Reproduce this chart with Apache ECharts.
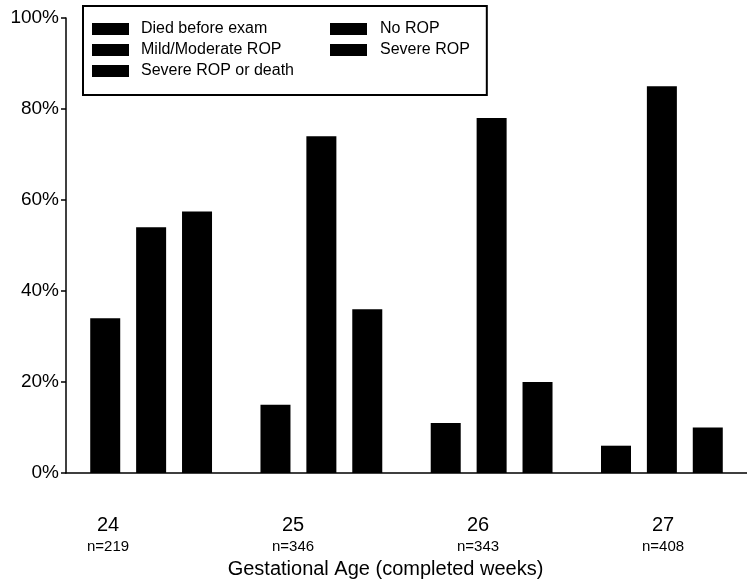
<!DOCTYPE html>
<html>
<head>
<meta charset="utf-8">
<script src="https://cdn.jsdelivr.net/npm/echarts@6/dist/echarts.min.js"></script>
<style>
  html, body { margin: 0; padding: 0; background: #fff; }
  #chart { width: 747px; height: 586px; }
</style>
</head>
<body>
<div id="chart"></div>
<script>
// ---- data ----
const weeks = ['24', '25', '26', '27'];
const nCounts = ['n=219', 'n=346', 'n=343', 'n=408'];
const diedBeforeExam = [34, 15, 11, 6];
const mildModerateROP = [54, 74, 78, 85];
const severeROPorDeath = [57.5, 36, 20, 10];
const noROP = [];
const severeROP = [];
const yTicks = [0, 20, 40, 60, 80, 100];
const xTitle = 'Gestational Age (completed weeks)';

const legendCol1 = ['Died before exam', 'Mild/Moderate ROP', 'Severe ROP or death'];
const legendCol2 = ['No ROP', 'Severe ROP'];

const FONT = '"Liberation Sans", Arial, Helvetica, sans-serif';
const INK = '#000000';

const chart = echarts.init(document.getElementById('chart'), null, { renderer: 'canvas' });

const barBase = {
  type: 'bar',
  xAxisIndex: 0,
  yAxisIndex: 0,
  barWidth: 30,
  barGap: '53%',
  itemStyle: { color: INK },
  emphasis: { disabled: true }
};

chart.setOption({
  animation: false,
  backgroundColor: '#ffffff',
  textStyle: { fontFamily: FONT, color: INK },
  grid: [
    { left: 66, top: 18, width: 692, height: 455, containLabel: false },
    { left: 108, right: 84, top: 18, height: 455, containLabel: false }
  ],
  legend: {
    orient: 'vertical',
    left: 83,
    top: 6,
    height: 66,
    padding: [15, 17, 16, 9],
    itemGap: 5,
    itemWidth: 37,
    itemHeight: 12,
    icon: 'rect',
    borderColor: INK,
    borderWidth: 2,
    backgroundColor: '#fff',
    selectedMode: false,
    data: legendCol1.concat(legendCol2),
    formatter: function (name) {
      return legendCol1.indexOf(name) >= 0 ? '{a|' + name + '}' : '{b|' + name + '}';
    },
    textStyle: {
      fontFamily: FONT,
      color: INK,
      fontSize: 16,
      rich: {
        a: { fontSize: 16, lineHeight: 19, width: 184, padding: [0, 0, 0, 7], fontFamily: FONT, color: INK },
        b: { fontSize: 16, lineHeight: 19, padding: [0, 0, 0, 8], fontFamily: FONT, color: INK }
      }
    }
  },
  xAxis: [
    {
      type: 'category',
      gridIndex: 0,
      data: weeks,
      boundaryGap: true,
      axisLine: { show: true, lineStyle: { color: INK, width: 1.5 } },
      axisTick: { show: false },
      axisLabel: { show: false },
      splitLine: { show: false }
    },
    {
      type: 'category',
      gridIndex: 1,
      data: weeks,
      boundaryGap: false,
      axisLine: { show: false },
      axisTick: { show: false },
      splitLine: { show: false },
      name: xTitle,
      nameLocation: 'middle',
      nameGap: 81,
      nameTextStyle: { fontFamily: FONT, fontSize: 20, color: INK },
      axisLabel: {
        interval: 0,
        margin: 40,
        formatter: function (v, i) { return '{a|' + v + '}\n{b|' + nCounts[i] + '}'; },
        rich: {
          a: { fontSize: 20, lineHeight: 24, fontFamily: FONT, color: INK, align: 'center' },
          b: { fontSize: 15, lineHeight: 20, fontFamily: FONT, color: INK, align: 'center' }
        }
      }
    }
  ],
  yAxis: [
    {
      type: 'value',
      gridIndex: 0,
      min: yTicks[0],
      max: yTicks[yTicks.length - 1],
      interval: 20,
      axisLine: { show: true, lineStyle: { color: INK, width: 1.5 } },
      axisTick: { show: true, inside: false, length: 5, lineStyle: { color: INK, width: 1.5 } },
      splitLine: { show: false },
      axisLabel: {
        margin: 7,
        fontSize: 19,
        fontFamily: FONT,
        color: INK,
        formatter: '{value}%'
      }
    },
    { type: 'value', gridIndex: 1, min: 0, max: 100, show: false }
  ],
  series: [
    Object.assign({}, barBase, { name: 'Died before exam', data: diedBeforeExam }),
    Object.assign({}, barBase, { name: 'Mild/Moderate ROP', stack: 'mid', data: mildModerateROP }),
    Object.assign({}, barBase, { name: 'No ROP', stack: 'mid', data: noROP }),
    Object.assign({}, barBase, { name: 'Severe ROP', stack: 'mid', data: severeROP }),
    Object.assign({}, barBase, { name: 'Severe ROP or death', data: severeROPorDeath })
  ]
});
</script>
</body>
</html>
